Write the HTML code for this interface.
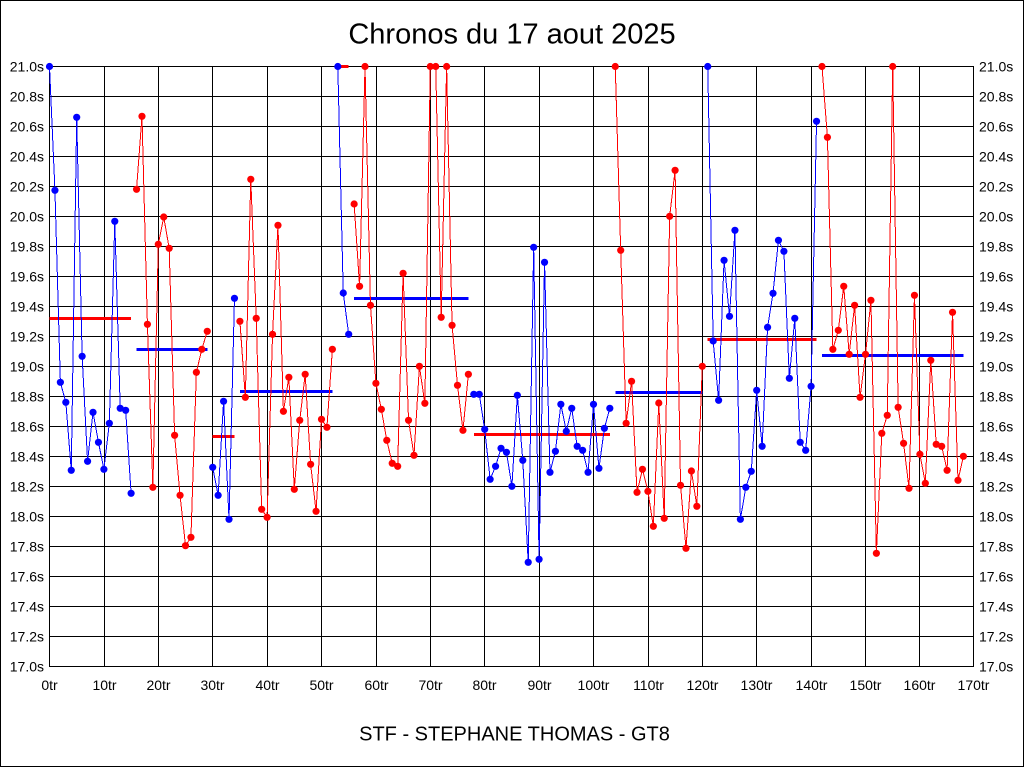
<!DOCTYPE html>
<html><head><meta charset="utf-8"><style>
html,body{margin:0;padding:0;background:#fff;}
svg{display:block;}
text{font-family:"Liberation Sans",Arial,sans-serif;fill:#000;}
</style></head><body>
<svg width="1024" height="768" viewBox="0 0 1024 768" xmlns="http://www.w3.org/2000/svg">
<defs>
<marker id="mb" markerUnits="userSpaceOnUse" markerWidth="10" markerHeight="10" refX="5" refY="5" overflow="visible"><circle cx="5" cy="5" r="3.6" fill="#0000ff"/></marker>
<marker id="mr" markerUnits="userSpaceOnUse" markerWidth="10" markerHeight="10" refX="5" refY="5" overflow="visible"><circle cx="5" cy="5" r="3.6" fill="#ff0000"/></marker>
</defs>
<rect x="0" y="0" width="1024" height="768" fill="#fff"/>
<rect x="0.5" y="0.5" width="1023" height="766" fill="none" stroke="#000" stroke-width="1" shape-rendering="crispEdges"/>

<g stroke="#000" stroke-width="1" shape-rendering="crispEdges">
<line x1="49" y1="66.5" x2="974" y2="66.5"/>
<line x1="49" y1="96.5" x2="974" y2="96.5"/>
<line x1="49" y1="126.5" x2="974" y2="126.5"/>
<line x1="49" y1="156.5" x2="974" y2="156.5"/>
<line x1="49" y1="186.5" x2="974" y2="186.5"/>
<line x1="49" y1="216.5" x2="974" y2="216.5"/>
<line x1="49" y1="246.5" x2="974" y2="246.5"/>
<line x1="49" y1="276.5" x2="974" y2="276.5"/>
<line x1="49" y1="306.5" x2="974" y2="306.5"/>
<line x1="49" y1="336.5" x2="974" y2="336.5"/>
<line x1="49" y1="366.5" x2="974" y2="366.5"/>
<line x1="49" y1="396.5" x2="974" y2="396.5"/>
<line x1="49" y1="426.5" x2="974" y2="426.5"/>
<line x1="49" y1="456.5" x2="974" y2="456.5"/>
<line x1="49" y1="486.5" x2="974" y2="486.5"/>
<line x1="49" y1="516.5" x2="974" y2="516.5"/>
<line x1="49" y1="546.5" x2="974" y2="546.5"/>
<line x1="49" y1="576.5" x2="974" y2="576.5"/>
<line x1="49" y1="606.5" x2="974" y2="606.5"/>
<line x1="49" y1="636.5" x2="974" y2="636.5"/>
<line x1="49" y1="666.5" x2="974" y2="666.5"/>
<line x1="49.5" y1="66" x2="49.5" y2="667"/>
<line x1="104.5" y1="66" x2="104.5" y2="667"/>
<line x1="158.5" y1="66" x2="158.5" y2="667"/>
<line x1="212.5" y1="66" x2="212.5" y2="667"/>
<line x1="267.5" y1="66" x2="267.5" y2="667"/>
<line x1="321.5" y1="66" x2="321.5" y2="667"/>
<line x1="376.5" y1="66" x2="376.5" y2="667"/>
<line x1="430.5" y1="66" x2="430.5" y2="667"/>
<line x1="484.5" y1="66" x2="484.5" y2="667"/>
<line x1="539.5" y1="66" x2="539.5" y2="667"/>
<line x1="593.5" y1="66" x2="593.5" y2="667"/>
<line x1="648.5" y1="66" x2="648.5" y2="667"/>
<line x1="702.5" y1="66" x2="702.5" y2="667"/>
<line x1="756.5" y1="66" x2="756.5" y2="667"/>
<line x1="811.5" y1="66" x2="811.5" y2="667"/>
<line x1="865.5" y1="66" x2="865.5" y2="667"/>
<line x1="919.5" y1="66" x2="919.5" y2="667"/>
<line x1="973.5" y1="66" x2="973.5" y2="667"/>
</g>

<g font-size="14" text-anchor="end">
<text x="44" y="71.5">21.0s</text>
<text x="44" y="101.5">20.8s</text>
<text x="44" y="131.5">20.6s</text>
<text x="44" y="161.5">20.4s</text>
<text x="44" y="191.5">20.2s</text>
<text x="44" y="221.5">20.0s</text>
<text x="44" y="251.5">19.8s</text>
<text x="44" y="281.5">19.6s</text>
<text x="44" y="311.5">19.4s</text>
<text x="44" y="341.5">19.2s</text>
<text x="44" y="371.5">19.0s</text>
<text x="44" y="401.5">18.8s</text>
<text x="44" y="431.5">18.6s</text>
<text x="44" y="461.5">18.4s</text>
<text x="44" y="491.5">18.2s</text>
<text x="44" y="521.5">18.0s</text>
<text x="44" y="551.5">17.8s</text>
<text x="44" y="581.5">17.6s</text>
<text x="44" y="611.5">17.4s</text>
<text x="44" y="641.5">17.2s</text>
<text x="44" y="671.5">17.0s</text>
</g>
<g font-size="14" text-anchor="start">
<text x="979" y="71.5">21.0s</text>
<text x="979" y="101.5">20.8s</text>
<text x="979" y="131.5">20.6s</text>
<text x="979" y="161.5">20.4s</text>
<text x="979" y="191.5">20.2s</text>
<text x="979" y="221.5">20.0s</text>
<text x="979" y="251.5">19.8s</text>
<text x="979" y="281.5">19.6s</text>
<text x="979" y="311.5">19.4s</text>
<text x="979" y="341.5">19.2s</text>
<text x="979" y="371.5">19.0s</text>
<text x="979" y="401.5">18.8s</text>
<text x="979" y="431.5">18.6s</text>
<text x="979" y="461.5">18.4s</text>
<text x="979" y="491.5">18.2s</text>
<text x="979" y="521.5">18.0s</text>
<text x="979" y="551.5">17.8s</text>
<text x="979" y="581.5">17.6s</text>
<text x="979" y="611.5">17.4s</text>
<text x="979" y="641.5">17.2s</text>
<text x="979" y="671.5">17.0s</text>
</g>
<g font-size="14" text-anchor="middle">
<text x="49.5" y="690">0tr</text>
<text x="104.5" y="690">10tr</text>
<text x="158.5" y="690">20tr</text>
<text x="212.5" y="690">30tr</text>
<text x="267.5" y="690">40tr</text>
<text x="321.5" y="690">50tr</text>
<text x="376.5" y="690">60tr</text>
<text x="430.5" y="690">70tr</text>
<text x="484.5" y="690">80tr</text>
<text x="539.5" y="690">90tr</text>
<text x="593.5" y="690">100tr</text>
<text x="648.5" y="690">110tr</text>
<text x="702.5" y="690">120tr</text>
<text x="756.5" y="690">130tr</text>
<text x="811.5" y="690">140tr</text>
<text x="865.5" y="690">150tr</text>
<text x="919.5" y="690">160tr</text>
<text x="973.5" y="690">170tr</text>
</g>

<text x="512" y="43.5" font-size="29" text-anchor="middle">Chronos du 17 aout 2025</text>
<text x="514.5" y="740.5" font-size="20" text-anchor="middle">STF - STEPHANE THOMAS - GT8</text>

<g stroke-width="3" shape-rendering="crispEdges">
<line x1="49.5" y1="318.5" x2="131.1" y2="318.5" stroke="#ff0000"/>
<line x1="136.5" y1="349.5" x2="207.3" y2="349.5" stroke="#0000ff"/>
<line x1="212.7" y1="436.5" x2="234.5" y2="436.5" stroke="#ff0000"/>
<line x1="239.9" y1="391.5" x2="332.4" y2="391.5" stroke="#0000ff"/>
<line x1="337.8" y1="66.5" x2="348.7" y2="66.5" stroke="#ff0000"/>
<line x1="354.1" y1="298.5" x2="468.4" y2="298.5" stroke="#0000ff"/>
<line x1="473.8" y1="434.5" x2="609.8" y2="434.5" stroke="#ff0000"/>
<line x1="615.3" y1="392.5" x2="702.3" y2="392.5" stroke="#0000ff"/>
<line x1="707.7" y1="339.5" x2="816.5" y2="339.5" stroke="#ff0000"/>
<line x1="822" y1="355.5" x2="963.4" y2="355.5" stroke="#0000ff"/>
</g>

<g fill="none" stroke-width="1" shape-rendering="crispEdges">
<polyline stroke="#0000ff" marker-start="url(#mb)" marker-mid="url(#mb)" marker-end="url(#mb)" points="49.5,66.5 54.94,190.3 60.38,382.3 65.82,402.3 71.26,470.3 76.7,117.3 82.14,356.3 87.58,461.3 93.02,412.3 98.46,442.3 103.9,469.3 109.34,423.3 114.78,221.3 120.22,408.3 125.66,410.3 131.1,493.3"/>
<polyline stroke="#ff0000" marker-start="url(#mr)" marker-mid="url(#mr)" marker-end="url(#mr)" points="136.54,189.3 141.98,116.3 147.42,324.3 152.86,487.3 158.3,244.3 163.74,217 169.18,248.3 174.62,435.3 180.06,495.3 185.5,545.7 190.94,537.3 196.38,372.3 201.82,349.3 207.26,331.3"/>
<polyline stroke="#0000ff" marker-start="url(#mb)" marker-mid="url(#mb)" marker-end="url(#mb)" points="212.7,467.3 218.14,495.3 223.58,401.3 229.02,519.3 234.46,298.3"/>
<polyline stroke="#ff0000" marker-start="url(#mr)" marker-mid="url(#mr)" marker-end="url(#mr)" points="239.9,321.3 245.34,397.3 250.78,179.3 256.22,318.3 261.66,509.3 267.1,517.3 272.54,334.3 277.98,225.3 283.42,411.3 288.86,377.3 294.3,489.3 299.74,420.3 305.18,374.3 310.62,464.3 316.06,511.3 321.5,419.3 326.94,427.3 332.38,349.3"/>
<polyline stroke="#0000ff" marker-start="url(#mb)" marker-mid="url(#mb)" marker-end="url(#mb)" points="337.82,66.5 343.26,293 348.7,334.3"/>
<polyline stroke="#ff0000" marker-start="url(#mr)" marker-mid="url(#mr)" marker-end="url(#mr)" points="354.14,204 359.58,286.3 365.02,66.5 370.46,305.3 375.9,383.3 381.34,409.3 386.78,440.3 392.22,463.3 397.66,466.3 403.1,273.3 408.54,420.3 413.98,455.3 419.42,366.3 424.86,403.3 430.3,66.5 435.74,66.5 441.18,317.3 446.62,66.5 452.06,325.3 457.5,385.3 462.94,430.3 468.38,374.3"/>
<polyline stroke="#0000ff" marker-start="url(#mb)" marker-mid="url(#mb)" marker-end="url(#mb)" points="473.82,394.3 479.26,394.3 484.7,429.3 490.14,479.3 495.58,466.3 501.02,448.3 506.46,452.3 511.9,486.3 517.34,395.3 522.78,460.3 528.22,562.3 533.66,247.3 539.1,559.3 544.54,262.3 549.98,472.3 555.42,451.3 560.86,404.3 566.3,431.3 571.74,408.3 577.18,446.3 582.62,450.3 588.06,472.3 593.5,404.3 598.94,468.3 604.38,428.3 609.82,408.3"/>
<polyline stroke="#ff0000" marker-start="url(#mr)" marker-mid="url(#mr)" marker-end="url(#mr)" points="615.26,66.5 620.7,250.3 626.14,423.3 631.58,381.3 637.02,492.3 642.46,469.3 647.9,491.3 653.34,526.3 658.78,403 664.22,518.3 669.66,216.3 675.1,170.3 680.54,485.3 685.98,548.3 691.42,471 696.86,506.3 702.3,366.3"/>
<polyline stroke="#0000ff" marker-start="url(#mb)" marker-mid="url(#mb)" marker-end="url(#mb)" points="707.74,66.5 713.18,341 718.62,400.3 724.06,260.3 729.5,316.3 734.94,230.3 740.38,519.3 745.82,487.3 751.26,471.3 756.7,390.3 762.14,446.3 767.58,327.3 773.02,293.3 778.46,240.3 783.9,251.3 789.34,378.3 794.78,318.3 800.22,442.3 805.66,450.3 811.1,386.3 816.54,121.3"/>
<polyline stroke="#ff0000" marker-start="url(#mr)" marker-mid="url(#mr)" marker-end="url(#mr)" points="821.98,66.5 827.42,137.3 832.86,349.3 838.3,330.3 843.74,286.3 849.18,354.3 854.62,305.3 860.06,397.3 865.5,354.3 870.94,300.3 876.38,553.3 881.82,433.3 887.26,415.3 892.7,66.5 898.14,407.3 903.58,443.3 909.02,488.3 914.46,295.3 919.9,454.3 925.34,483.3 930.78,360.3 936.22,444.3 941.66,446.3 947.1,470.3 952.54,312.3 957.98,480.3 963.42,456.3"/>
</g>
</svg>
</body></html>
